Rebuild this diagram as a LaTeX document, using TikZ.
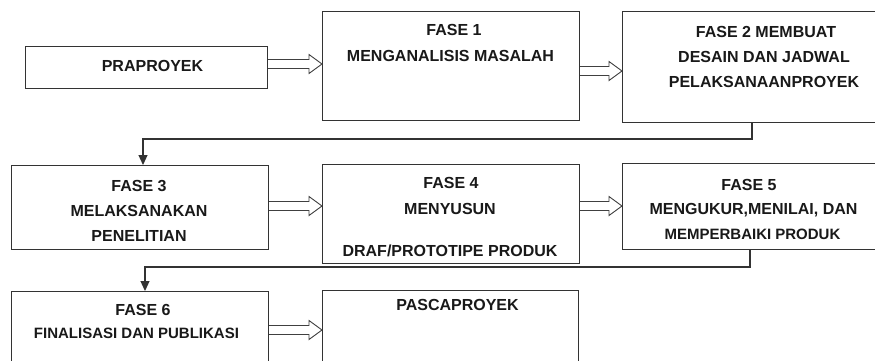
\documentclass[tikz,border=0pt]{standalone}
\usepackage{fontspec}
\setmainfont{Liberation Sans}
\usetikzlibrary{arrows.meta,calc}
\tikzset{
 box/.style={draw=black!80, line width=1.1pt, rectangle, inner sep=0pt, anchor=north west},
 lbl/.style={anchor=base, inner sep=0pt, font=\bfseries\fontsize{16}{18}\selectfont, text=black!90},
 lbls/.style={lbl, font=\bfseries\fontsize{15}{17}\selectfont},
 conn/.style={draw=black!80, line width=1.1pt, -{Triangle[length=10pt,width=9pt]}},
 hollow/.style={draw=black!75, line width=0.9pt, line join=miter},
}
\newcommand\harrow[3]{%
 \draw[hollow] let \p1=(#1.east), \p2=(#2.west) in
 (\x1,{-(#3-4.5)*1pt}) -- ({\x2-13pt},{-(#3-4.5)*1pt}) -- ({\x2-13pt},{-(#3-9.5)*1pt}) -- (\x2,{-#3*1pt}) -- ({\x2-13pt},{-(#3+9.5)*1pt}) -- ({\x2-13pt},{-(#3+4.5)*1pt}) -- (\x1,{-(#3+4.5)*1pt});}
\begin{document}
\begin{tikzpicture}[x=1pt,y=-1pt]
\fill[white] (0,0) rectangle (875,360);
\useasboundingbox (0,0) rectangle (875,360);
% boxes
\node[box, minimum width=242pt, minimum height=42pt] (pra) at (25,46) {};
\node[box, minimum width=257pt, minimum height=109pt] (f1) at (322,11) {};
\node[box, minimum width=275pt, minimum height=111pt] (f2) at (622,11) {};
\node[box, minimum width=257pt, minimum height=84pt] (f3) at (11,165) {};
\node[box, minimum width=257pt, minimum height=99pt] (f4) at (322,164) {};
\node[box, minimum width=256pt, minimum height=86pt] (f5) at (622,163) {};
\node[box, minimum width=257pt, minimum height=80pt] (f6) at (11,291) {};
\node[box, minimum width=256pt, minimum height=80pt] (pasca) at (322,290) {};
% labels
\node[lbl] (lpra) at (152.5,71) {PRAPROYEK};
\node[lbl] (l1a) at (454,35.5) {FASE 1};
\node[lbl] (l1b) at (450.5,61.5) {MENGANALISIS MASALAH};
\node[lbl] (l2a) at (766,37.5) {FASE 2 MEMBUAT};
\node[lbl] (l2b) at (764,62.5) {DESAIN DAN JADWAL};
\node[lbl] (l2c) at (764,87.5) {PELAKSANAANPROYEK};
\node[lbl] (l3a) at (139,191) {FASE 3};
\node[lbl] (l3b) at (139,216) {MELAKSANAKAN};
\node[lbl] (l3c) at (139,241) {PENELITIAN};
\node[lbl] (l4a) at (451,188.5) {FASE 4};
\node[lbl] (l4b) at (450,214) {MENYUSUN};
\node[lbl] (l4c) at (450,256.5) {DRAF/PROTOTIPE PRODUK};
\node[lbl] (l5a) at (749,190) {FASE 5};
\node[lbl] (l5b) at (753.5,214.5) {MENGUKUR,MENILAI, DAN};
\node[lbls] (l5c) at (752.5,239.5) {MEMPERBAIKI PRODUK};
\node[lbl] (l6a) at (143,315) {FASE 6};
\node[lbls] (l6b) at (136.5,338.5) {FINALISASI DAN PUBLIKASI};
\node[lbl] (lpasca) at (457.5,310) {PASCAPROYEK};
% hollow arrows
\harrow{pra}{f1}{64}
\harrow{f1}{f2}{71}
\harrow{f3}{f4}{206}
\harrow{f4}{f5}{206}
\harrow{f6}{pasca}{330}
% connectors
\coordinate (t1) at (752,139);
\coordinate (t2) at (143,139);
\coordinate (t3) at (750,267);
\coordinate (t4) at (145,267);
\draw[conn] (f2.south -| t1) -- (t1) -- (t2) -- (f3.north -| t2);
\draw[conn] (f5.south -| t3) -- (t3) -- (t4) -- (f6.north -| t4);
\end{tikzpicture}
\end{document}
